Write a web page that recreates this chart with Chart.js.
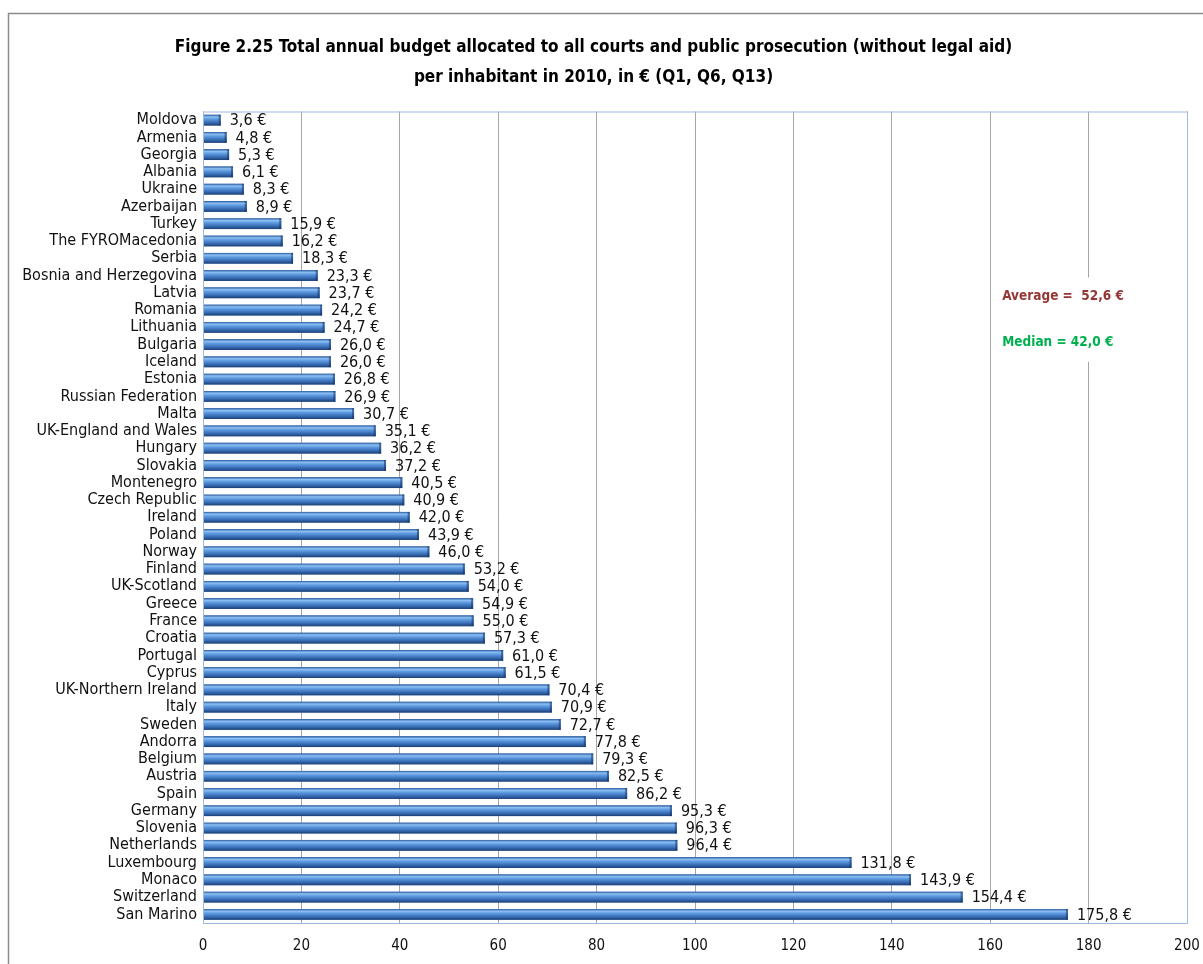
<!DOCTYPE html>
<html>
<head>
<meta charset="utf-8">
<script src="https://cdn.jsdelivr.net/npm/chart.js@4.4.1/dist/chart.umd.min.js"></script>
<style>
  html, body { margin: 0; padding: 0; background: #fff; }
  #wrap { width: 1203px; height: 964px; }
</style>
</head>
<body>
<div id="wrap"><canvas id="budget-chart" width="1203" height="964"></canvas></div>
<script>
const countries = [
  "Moldova", "Armenia", "Georgia", "Albania", "Ukraine", "Azerbaijan", "Turkey",
  "The FYROMacedonia", "Serbia", "Bosnia and Herzegovina", "Latvia", "Romania",
  "Lithuania", "Bulgaria", "Iceland", "Estonia", "Russian Federation", "Malta",
  "UK-England and Wales", "Hungary", "Slovakia", "Montenegro", "Czech Republic",
  "Ireland", "Poland", "Norway", "Finland", "UK-Scotland", "Greece", "France",
  "Croatia", "Portugal", "Cyprus", "UK-Northern Ireland", "Italy", "Sweden",
  "Andorra", "Belgium", "Austria", "Spain", "Germany", "Slovenia", "Netherlands",
  "Luxembourg", "Monaco", "Switzerland", "San Marino"
];
const budgetPerInhabitant = [
  3.6, 4.8, 5.3, 6.1, 8.3, 8.9, 15.9,
  16.2, 18.3, 23.3, 23.7, 24.2,
  24.7, 26.0, 26.0, 26.8, 26.9, 30.7,
  35.1, 36.2, 37.2, 40.5, 40.9,
  42.0, 43.9, 46.0, 53.2, 54.0, 54.9, 55.0,
  57.3, 61.0, 61.5, 70.4, 70.9, 72.7,
  77.8, 79.3, 82.5, 86.2, 95.3, 96.3, 96.4,
  131.8, 143.9, 154.4, 175.8
];
const xTicks = [0, 20, 40, 60, 80, 100, 120, 140, 160, 180, 200];
const titleLines = [
  "Figure 2.25 Total annual budget allocated to all courts and public prosecution (without legal aid)",
  "per inhabitant in 2010, in € (Q1, Q6, Q13)"
];
const averageText = "Average =  52,6 €";
const medianText = "Median = 42,0 €";

const FONT = "'Liberation Sans Narrow', 'Arial Narrow', 'DejaVu Sans Condensed', sans-serif";
const fmt = (v) => v.toFixed(1).replace(".", ",") + " €";

// Frame, plot border, shaded bars, value labels, notes
const decorations = {
  id: "decorations",
  beforeDraw(chart) {
    const ctx = chart.ctx;
    ctx.save();
    ctx.fillStyle = "#fff";
    ctx.fillRect(0, 0, chart.width, chart.height);
    ctx.strokeStyle = "#8c8c8c";
    ctx.lineWidth = 1.5;
    ctx.strokeRect(8.5, 13.5, chart.width + 10, chart.height + 10);
    ctx.restore();
  },
  afterDatasetsDraw(chart) {
    const ctx = chart.ctx;
    const area = chart.chartArea;
    const meta = chart.getDatasetMeta(0);
    ctx.save();
    meta.data.forEach((bar, i) => {
      const h = bar.height;
      const top = bar.y - h / 2;
      const w = bar.x - bar.base;
      const g = ctx.createLinearGradient(0, top, 0, top + h);
      g.addColorStop(0, "#2a5a9c");
      g.addColorStop(0.2, "#8cc0f4");
      g.addColorStop(0.4, "#5f9ae0");
      g.addColorStop(0.75, "#3469b0");
      g.addColorStop(1, "#1d3f72");
      ctx.fillStyle = g;
      ctx.fillRect(bar.base, top, w, h);
      // end cap
      ctx.fillStyle = "rgba(20,50,100,0.55)";
      ctx.fillRect(bar.x - 2, top, 2, h);

      ctx.fillStyle = "#111";
      ctx.font = "16px " + FONT;
      ctx.textAlign = "left";
      ctx.textBaseline = "middle";
      ctx.fillText(fmt(budgetPerInhabitant[i]), bar.x + 9, bar.y + 1);
    });

    // plot area border
    ctx.strokeStyle = "#9db9dd";
    ctx.lineWidth = 1;
    ctx.strokeRect(area.left + 0.5, area.top + 0.5, area.right - area.left, area.bottom - area.top);

    // notes box
    const xs = chart.scales.x;
    const bx = xs.getPixelForValue(160) + 1;
    const ys = chart.scales.y;
    const by = ys.getPixelForValue(9) + 2;
    const bh = ys.getPixelForValue(14) - by;
    ctx.fillStyle = "#fff";
    ctx.fillRect(bx, by, area.right - bx - 6, bh);
    ctx.font = "bold 13.5px " + FONT;
    ctx.textBaseline = "middle";
    ctx.fillStyle = "#953735";
    ctx.fillText(averageText, bx + 11, ys.getPixelForValue(10.2));
    ctx.fillStyle = "#00b050";
    ctx.fillText(medianText, bx + 11, ys.getPixelForValue(12.9));
    ctx.restore();
  }
};

const chart = new Chart(document.getElementById("budget-chart").getContext("2d"), {
  type: "bar",
  data: {
    labels: countries,
    datasets: [{
      data: budgetPerInhabitant,
      backgroundColor: "#3a6fb8",
      categoryPercentage: 1,
      barPercentage: 0.62
    }]
  },
  options: {
    indexAxis: "y",
    responsive: false,
    animation: false,
    layout: { padding: { left: 0, right: 16, top: 0, bottom: 8 } },
    plugins: {
      legend: { display: false },
      tooltip: { enabled: false },
      title: {
        display: true,
        text: titleLines,
        color: "#000",
        font: { family: FONT, size: 17, weight: "bold", lineHeight: 1.75 },
        padding: { top: 33, bottom: 19 }
      }
    },
    scales: {
      x: {
        min: 0,
        max: 200,
        afterBuildTicks(scale) {
          scale.ticks = xTicks.map((v) => ({ value: v }));
        },
        afterFit(scale) {
          scale.height = 33;
          scale.paddingRight = 0;
          scale.paddingLeft = 0;
        },
        grid: { color: "#a6a6a6", drawTicks: false },
        border: { display: false },
        ticks: {
          color: "#111",
          padding: 14,
          font: { family: FONT, size: 15 }
        }
      },
      y: {
        afterFit(scale) { scale.width = 203; },
        grid: { display: false },
        border: { display: false },
        ticks: {
          color: "#111",
          padding: -2,
          autoSkip: false,
          font: { family: FONT, size: 16 }
        }
      }
    }
  },
  plugins: [decorations]
});
</script>
</body>
</html>
